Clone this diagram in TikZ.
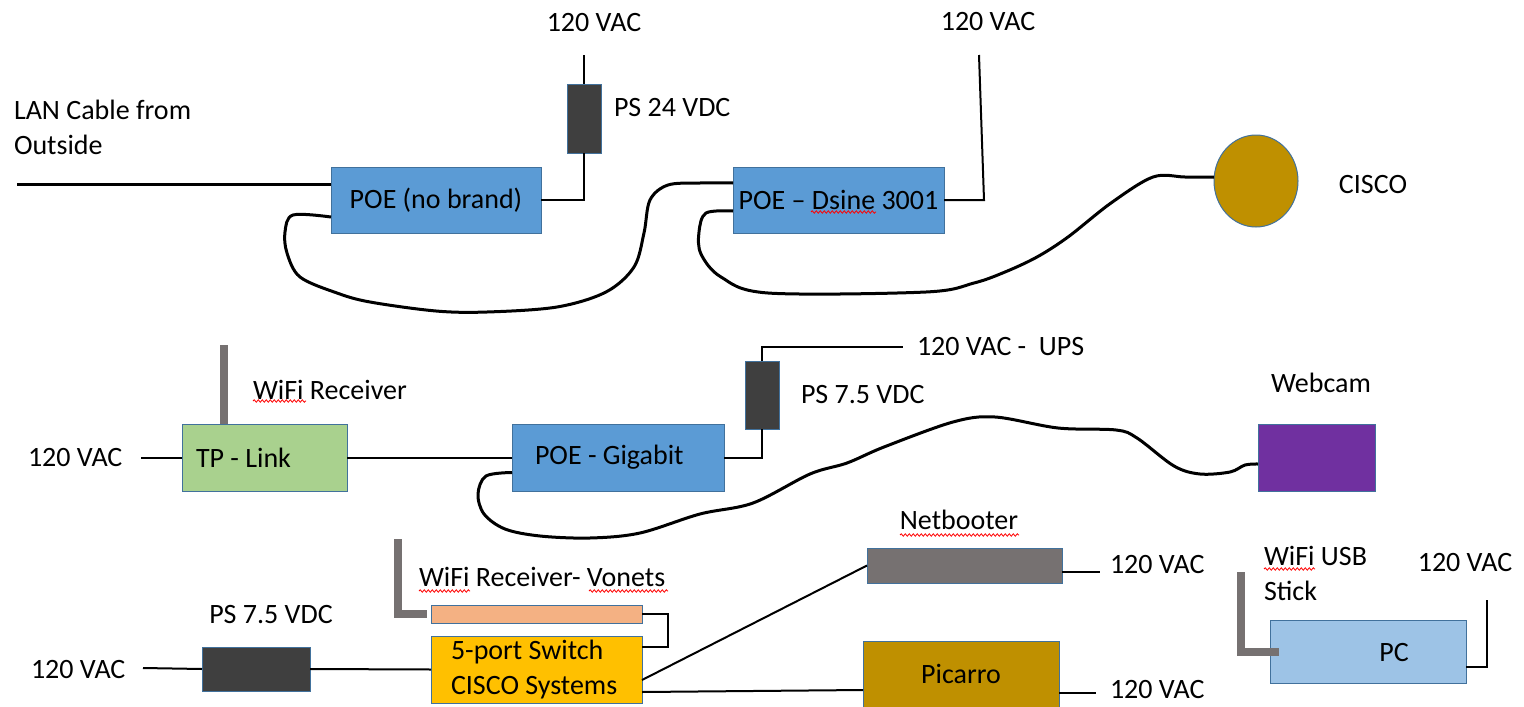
\documentclass[tikz,border=0pt]{standalone}
\usepackage{fontspec}
\setmainfont{Carlito}
\usetikzlibrary{shapes.geometric,decorations.pathmorphing}
\definecolor{poeblue}{HTML}{5B9BD5}
\definecolor{bordblue}{HTML}{41719C}
\definecolor{tpgreen}{HTML}{A9D18E}
\definecolor{psdark}{HTML}{3F3F3F}
\definecolor{goldc}{HTML}{BF9000}
\definecolor{purplec}{HTML}{7030A0}
\definecolor{grayc}{HTML}{767171}
\definecolor{peach}{HTML}{F4B183}
\definecolor{yellowc}{HTML}{FFC000}
\definecolor{pcblue}{HTML}{9DC3E6}
\begin{document}
\begin{tikzpicture}[x=1pt,y=-1pt,
  every node/.style={inner sep=0pt, outer sep=0pt},
  every label/.style={inner sep=0pt, outer sep=0pt},
  label distance=0pt,
  font=\fontsize{28}{35}\selectfont,
  box/.style={draw=bordblue, line width=1pt},
  wire/.style={black, line width=2pt},
  cable/.style={black, line width=3pt, line join=round},
  antenna/.style={grayc, line width=8pt},
  wavy/.style={red, line width=0.8pt, decorate, decoration={snake, amplitude=1.2pt, segment length=4pt}}]
\useasboundingbox (0,0) rectangle (1524,707);
\fill[white] (0,0) rectangle (1524,707);

% ---------- top row ----------
\node[box, fill=poeblue, minimum width=210, minimum height=66] (poe1) at (436,200) {POE (no brand)};
\node[box, fill=psdark, minimum width=34, minimum height=69] (ps1) at (584,118.5) {};
\node (vac1) at (594,23) {120 VAC};
\node[anchor=west] (ps1l) at (614,108) {PS 24 VDC};
\node[anchor=west, align=left] (lan) at (14,127) {LAN Cable from\\Outside};
\coordinate (lanend) at (17,184);
\coordinate (v1top) at (584,55);

\node[box, fill=poeblue, minimum width=211, minimum height=66] (poe2) at (838.5,200) {POE – Dsine 3001};
\node (vac2) at (988,22) {120 VAC};
\coordinate (v2top) at (979,55);

\node[ellipse, box, fill=goldc, minimum width=84, minimum height=92] (cisco) at (1256,181) {};
\node (ciscol) at (1373,185) {CISCO};

\draw[cable] (lanend) -- (lanend -| poe1.west);
\draw[wire] (v1top) -- (ps1.north);
\draw[wire] (ps1.south) |- (poe1.east);
\draw[wire] (v2top) -- (984,200) -- (poe2.east);

\draw[cable] plot[smooth, tension=0.55] coordinates {([yshift=-17pt]poe1.west) (293,215) (285,232) (287,253) (300,277) (337,293) (370,302) (436,311) (487,312) (557,307) (606,292) (634,267) (644,233) (650,200) (668,185) (700,183) ([yshift=17pt]poe2.west)};
\draw[cable] plot[smooth, tension=0.55] coordinates {([yshift=-11pt]poe2.west) (706,213) (699,232) (701,254) (721,277) (768,293) (926,292) (974,283) (1005,272) (1037,257) (1068,237) (1111,203) (1153,177) (1185,177) ([yshift=4pt]cisco.west)};

% ---------- middle row ----------
\node[box, fill=tpgreen, minimum width=165, minimum height=67,
      label={[anchor=west, xshift=14pt]west:TP - Link}] (tplink) at (264.5,457.5) {};
\coordinate (ant1) at (224,345);
\draw[antenna] (ant1) -- (ant1 |- tplink.north);
\node[anchor=west] (wifi1) at (253,390) {WiFi Receiver};
\node[anchor=west] (vac3) at (28,458) {120 VAC};
\coordinate (v3) at (141,457.5);
\draw[wire] (v3) -- (tplink.west);

\node[box, fill=poeblue, minimum width=212, minimum height=67,
      label={[anchor=west, xshift=23pt]west:POE - Gigabit}] (poeg) at (618,457.5) {};
\draw[wire] (tplink.east) -- (poeg.west);

\node[box, fill=psdark, minimum width=34, minimum height=68] (ps2) at (762,395) {};
\coordinate (ups) at (903,347);
\node[anchor=west] (upsl) at (917,347) {120 VAC -~ UPS};
\node[anchor=west] (ps2l) at (801,395) {PS 7.5 VDC};
\draw[wire] (ps2.north) |- (ups);
\draw[wire] (ps2.south) |- (poeg.east);

\node[box, fill=purplec, minimum width=117, minimum height=67] (webcam) at (1316.5,457.5) {};
\node (webl) at (1321,383) {Webcam};

\draw[cable] plot[smooth, tension=0.55] coordinates {([yshift=-15pt]poeg.west) (486,476) (478,494) (484,514) (505,529) (540,536) (590,538) (640,533) (700,514) (753,503) (810,474) (847,463) (884,447) (953,422) (995,417) (1058,428) (1116,430) (1137,438) (1174,466) (1200,474) (1230,472) (1245,465) ([yshift=-6.5pt]webcam.west)};

% ---------- bottom row ----------
\node[box, fill=peach, minimum width=211, minimum height=18] (vonets) at (536.5,614) {};
\coordinate (ant2) at (398,539);
\draw[antenna] (ant2) |- ([xshift=-4pt]vonets.west);
\node[anchor=west] (wifi2) at (419,577) {WiFi Receiver- Vonets};

\node[box, fill=yellowc, minimum width=211, minimum height=67,
      label={[anchor=west, xshift=20pt, align=left]west:5-port Switch\\CISCO Systems}] (switch) at (536.5,669.5) {};
\coordinate (vr) at (668,614);
\draw[wire] (vonets.east) -- (vr) |- ([yshift=22.5pt]switch.east);

\node[box, fill=psdark, minimum width=108, minimum height=44] (ps3) at (256,669) {};
\node (ps3l) at (271,615) {PS 7.5 VDC};
\node[anchor=west] (vac5) at (31,670) {120 VAC};
\coordinate (v5) at (143,668);
\draw[wire] (v5) -- (ps3.west);
\draw[wire] (ps3.east) -- (switch.west);

\node[box, fill=grayc, minimum width=195, minimum height=35] (netb) at (964.5,565.5) {};
\node (netbl) at (959,520) {Netbooter};
\draw[wire] ([yshift=-10.5pt]switch.east) -- (netb.west);
\coordinate (nbp) at (1100,572);
\draw[wire] ([yshift=-6.5pt]netb.east) -- (nbp);
\node[anchor=west] (vac6) at (1110,565) {120 VAC};

\node[box, fill=goldc, minimum width=196, minimum height=66] (picarro) at (961,674) {Picarro};
\draw[wire] ([yshift=-22.5pt]switch.east) -- ([yshift=-16pt]picarro.west);
\coordinate (pcp) at (1096,693);
\draw[wire] ([yshift=-19pt]picarro.east) -- (pcp);
\node[anchor=west] (vac7) at (1110,690) {120 VAC};

\node[box, fill=pcblue, minimum width=196, minimum height=63] (pc) at (1368,651.5) {};
\node (pcl) at (1394,653) {PC};
\coordinate (ant3) at (1241,572);
\draw[antenna] (ant3) |- ([xshift=9pt]pc.west);
\node[anchor=west, align=left] (usb) at (1264,573.5) {WiFi USB\\Stick};
\coordinate (pcpow) at (1487,600);
\draw[wire] ([yshift=-15.5pt]pc.east) -| (pcpow);
\node (vac8) at (1465,563) {120 VAC};

% spell-check underlines
\draw[wavy] (253,401) -- (306,401);
\draw[wavy] (811,212) -- (876,212);
\draw[wavy] (419,591) -- (470,591);
\draw[wavy] (589,591) -- (668,591);
\draw[wavy] (900,535) -- (1019,535);
\draw[wavy] (1264,569) -- (1315,569);
\end{tikzpicture}
\end{document}
